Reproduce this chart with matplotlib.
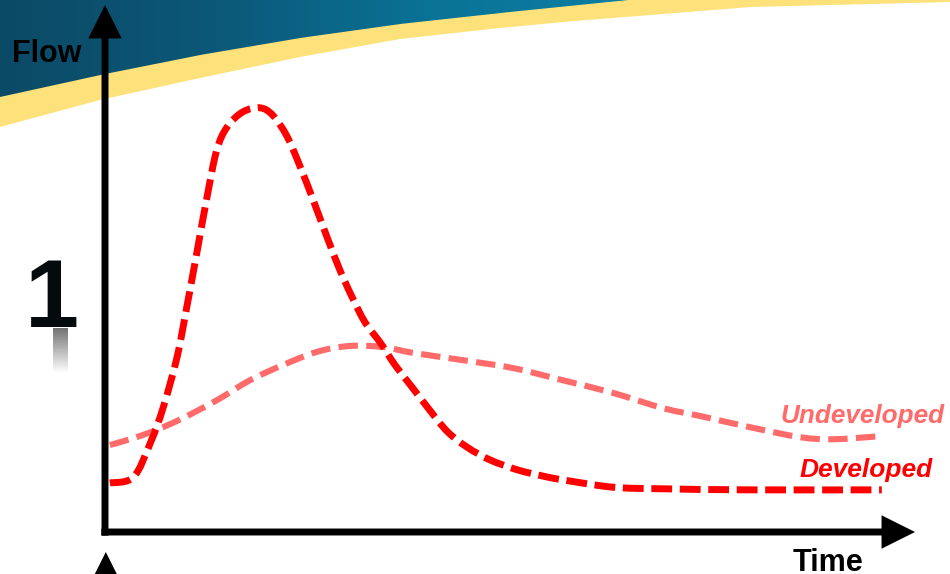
import numpy as np
import matplotlib
matplotlib.use("Agg")
import matplotlib.pyplot as plt
from matplotlib.colors import LinearSegmentedColormap
from matplotlib.path import Path
from matplotlib.patches import PathPatch

plt.rcParams['font.family'] = ['Liberation Sans', 'DejaVu Sans']
plt.rcParams['lines.scale_dashes'] = False

# ---- data (time and flow in arbitrary units, 0..100) ----
developed_time = [0.6, 3.5, 5.6, 7.2, 8.9, 10.1, 11.4, 12.6, 13.8, 15.1, 17.0, 19.1,
                  20.7, 22.5, 24.1, 25.7, 27.4, 29.0, 30.5, 32.1, 34.0, 35.8, 38.0,
                  40.1, 42.3, 44.7, 47.5, 50.9, 54.1, 56.5, 62.7, 68.9, 79.3, 95.9]
developed_flow = [9.3, 10.4, 16.9, 23.7, 33.2, 42.7, 53.5, 63.6, 72.5, 76.9, 79.7, 80.5,
                  79.1, 75.0, 69.3, 63.0, 56.0, 49.7, 44.6, 39.8, 35.9, 31.7, 27.3,
                  23.1, 19.0, 16.1, 13.7, 11.8, 10.6, 9.9, 8.5, 8.2, 8.0, 8.0]
undeveloped_time = [0.6, 3.5, 6.4, 9.6, 13.8, 17.9, 22.0, 26.2, 30.2, 34.3, 38.0, 44.2,
                    50.4, 56.5, 62.7, 68.9, 73.5, 79.6, 85.8, 89.9, 95.9]
undeveloped_flow = [16.5, 17.8, 19.4, 21.6, 25.0, 28.8, 31.7, 34.2, 35.3, 35.1, 34.0, 32.6,
                    31.1, 28.8, 26.4, 23.5, 22.0, 19.9, 18.0, 17.6, 18.2]

series_labels = ["Undeveloped", "Developed"]
x_label = "Time"
y_label = "Flow"
slide_number = "1"

# ---- banner decoration edges (pixel coords of the slide background) ----
blue_edge_x = [0, 100, 200, 300, 400, 500, 628, 950]
blue_edge_y = [97, 75, 55, 38, 24, 13, 0, 0]
white_edge_x = [0, 100, 200, 300, 400, 500, 575, 751, 950]
white_edge_y = [127, 100, 78, 57, 39, 28, 21, 7, 2]


def smooth_path(x, y):
    """Catmull-Rom style cubic Bezier path through the given points."""
    p = np.column_stack([x, y]).astype(float)
    n = len(p)
    verts = [p[0]]
    codes = [Path.MOVETO]
    for i in range(n - 1):
        p0 = p[i - 1] if i > 0 else p[i]
        p1, p2 = p[i], p[i + 1]
        p3 = p[i + 2] if i + 2 < n else p[i + 1]
        c1 = p1 + (p2 - p0) / 6.0
        c2 = p2 - (p3 - p1) / 6.0
        verts += [c1, c2, p2]
        codes += [Path.CURVE4] * 3
    return Path(verts, codes)


W, H = 950, 574
fig = plt.figure(figsize=(W / 100, H / 100), dpi=100)
fig.patch.set_facecolor('white')

# background axes in pixel coordinates
bg = fig.add_axes([0, 0, 1, 1])
bg.set_xlim(0, W)
bg.set_ylim(H, 0)
bg.axis('off')

xs = np.linspace(0, W, 400)
wy = np.interp(xs, white_edge_x, white_edge_y)
by = np.interp(xs, blue_edge_x, blue_edge_y)
bg.fill_between(xs, 0, wy, color='#fde27c', lw=0, zorder=1)

grad = np.linspace(0, 1, 256).reshape(1, -1)
cmap = LinearSegmentedColormap.from_list('b', ['#0b4a66', '#0c5878', '#0a7396', '#0b80a5'])
im = bg.imshow(grad, extent=[0, 650, 130, 0], cmap=cmap, aspect='auto', zorder=2)
verts = [(0, 0)] + list(zip(xs, by)) + [(W, 0), (0, 0)]
clip = PathPatch(Path(verts), transform=bg.transData, facecolor='none', edgecolor='none')
bg.add_patch(clip)
im.set_clip_path(clip)

# reflection under the slide number
refl = np.linspace(0.45, 1.0, 64).reshape(-1, 1)
bg.imshow(refl, extent=[53, 68, 373, 328], cmap='gray', vmin=0, vmax=1,
          aspect='auto', zorder=2)

fig.text(52 / W, 1 - 327 / H, slide_number, ha='center', va='baseline',
         fontsize=70, fontweight='bold', color='#050a0c')

# ---- chart axes ----
ax = fig.add_axes([105 / W, (H - 532) / H, 810 / W, 527 / H])
ax.set_xlim(0, 100)
ax.set_ylim(0, 100)
ax.axis('off')
ax.patch.set_alpha(0)

ax.add_patch(PathPatch(smooth_path(undeveloped_time, undeveloped_flow), fill=False,
                       edgecolor='#ff6b6b', lw=4.4, linestyle=(0, (14, 6)),
                       capstyle='butt', zorder=3))
ax.add_patch(PathPatch(smooth_path(developed_time, developed_flow), fill=False,
                       edgecolor='#ff0000', lw=5.0, linestyle=(0, (15, 5.5)),
                       capstyle='butt', zorder=4))

arrow_kw = dict(arrowstyle='-|>,head_length=0.8,head_width=0.4', lw=5,
                color='black', mutation_scale=20, shrinkA=0, shrinkB=0,
                joinstyle='miter', capstyle='butt')
ax.annotate('', xy=(0, 1), xytext=(0, -0.007), xycoords='axes fraction',
            arrowprops=arrow_kw, annotation_clip=False, zorder=5)
ax.annotate('', xy=(1, 0), xytext=(-0.0045, 0), xycoords='axes fraction',
            arrowprops=arrow_kw, annotation_clip=False, zorder=5)
ax.annotate('', xy=(0.001, -0.038), xytext=(0.001, -0.2), xycoords='axes fraction',
            arrowprops=arrow_kw, annotation_clip=False, zorder=5)

fig.text(12 / W, 1 - 62 / H, y_label, ha='left', va='baseline',
         fontsize=22, fontweight='bold', color='black')
fig.text(793 / W, 1 - 571 / H, x_label, ha='left', va='baseline',
         fontsize=22, fontweight='bold', color='black')
fig.text(780 / W, 1 - 423 / H, series_labels[0], ha='left', va='baseline',
         fontsize=18.8, fontweight='bold', fontstyle='italic', color='#ff6b6b')
fig.text(800 / W, 1 - 477 / H, series_labels[1], ha='left', va='baseline',
         fontsize=19, fontweight='bold', fontstyle='italic', color='#ff0000')

fig.savefig('out.png', dpi=100)
